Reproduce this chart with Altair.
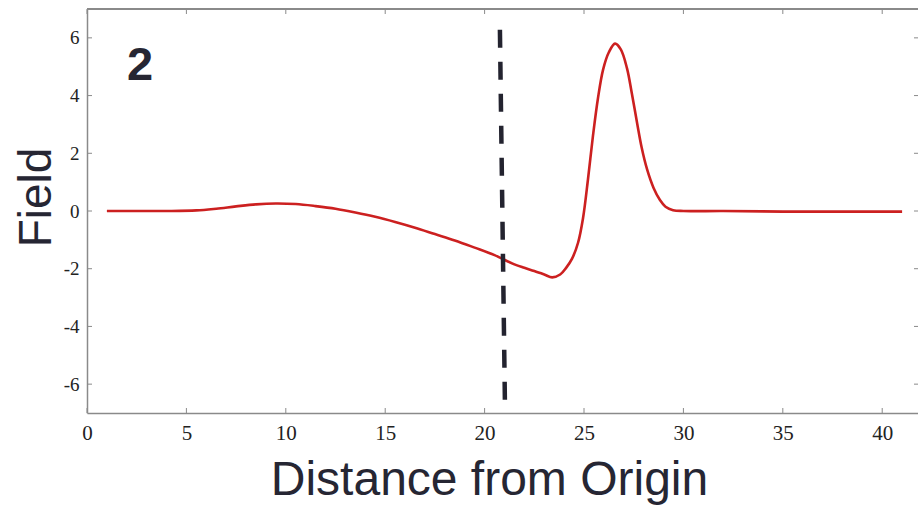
import altair as alt
import pandas as pd

# Field profile
dist = [1.0, 2.5, 4.0, 5.5, 6.5, 7.5, 8.5, 9.5, 10.5, 11.5, 12.5, 13.5, 14.5,
        15.5, 16.5, 17.5, 18.5, 19.5, 20.5, 21.5, 22.0, 22.5, 23.0, 23.4,
        23.8, 24.1, 24.4, 24.7, 24.95, 25.2, 25.45, 25.7, 25.96, 26.25, 26.56,
        26.85, 27.16, 27.4, 27.67, 27.9, 28.17, 28.5, 28.82, 29.1, 29.48,
        30.0, 32.0, 35.0, 38.0, 41.0]
field = [0.0, 0.0, 0.0, 0.02, 0.08, 0.16, 0.23, 0.26, 0.24, 0.17, 0.08, -0.05,
         -0.2, -0.38, -0.58, -0.8, -1.02, -1.27, -1.53, -1.85, -1.97, -2.08,
         -2.2, -2.30, -2.2, -1.97, -1.65, -1.1, -0.25, 1.1, 2.6, 3.9, 4.9,
         5.5, 5.8, 5.6, 4.95, 4.1, 3.05, 2.2, 1.45, 0.8, 0.38, 0.15, 0.03,
         0.0, 0.0, -0.02, -0.02, -0.02]

# Dashed marker line
marker_x = [20.77, 21.02]
marker_y = [6.28, -6.55]

# Panel label
label_text = ["2"]
label_x = [2.67]
label_y = [4.55]

x_ticks = [0, 5, 10, 15, 20, 25, 30, 35, 40]
y_ticks = [-6, -4, -2, 0, 2, 4, 6]

X_DOMAIN = [0, 41.8]
Y_DOMAIN = [-7, 7]
W, H = 831, 404
AXIS_GRAY = "#8a8a8a"
TEXT_DARK = "#262633"

curve_df = pd.DataFrame({"x": dist, "y": field})
marker_df = pd.DataFrame({"x": marker_x, "y": marker_y})
label_df = pd.DataFrame({"t": label_text, "x": label_x, "y": label_y})
xt_df = pd.DataFrame({"v": x_ticks})
yt_df = pd.DataFrame({"v": y_ticks})

xscale = alt.Scale(domain=X_DOMAIN, nice=False, zero=False)
yscale = alt.Scale(domain=Y_DOMAIN, nice=False, zero=False)

x_axis = alt.Axis(
    values=x_ticks, tickSize=0, labelPadding=9, labelFont="Liberation Serif",
    labelFontSize=21, labelColor="#222222", domainColor=AXIS_GRAY, domainWidth=1.5,
    grid=False, title="Distance from Origin", titleFont="Liberation Sans",
    titleFontSize=48, titleFontWeight="normal", titleColor=TEXT_DARK,
    titleX=402, titleY=81, titleAlign="center", titleBaseline="alphabetic",
    labelFlush=False, labelExpr="'' + datum.value",
)
y_axis = alt.Axis(
    values=y_ticks, tickSize=0, labelPadding=8, labelFont="Liberation Serif",
    labelFontSize=19, labelColor="#222222", domainColor=AXIS_GRAY, domainWidth=1.5,
    grid=False, title="Field", titleFont="Liberation Sans", titleFontSize=46,
    titleFontWeight="normal", titleColor=TEXT_DARK, titleAngle=-90,
    titleX=-51, titleY=188, titleAlign="center", titleBaseline="middle",
    labelFlush=False, labelExpr="'' + datum.value",
)

curve = alt.Chart(curve_df).mark_line(
    color="#cc2020", strokeWidth=2.6, interpolate="catmull-rom"
).encode(
    x=alt.X("x:Q", scale=xscale, axis=x_axis),
    y=alt.Y("y:Q", scale=yscale, axis=y_axis),
)

# top border
top_border = alt.Chart(xt_df).mark_rule(color=AXIS_GRAY, strokeWidth=1.5).encode(
    x=alt.value(0), x2=alt.value(W), y=alt.value(0))

# inward ticks
xt_bottom = alt.Chart(xt_df).mark_rule(color=AXIS_GRAY, strokeWidth=1).encode(
    x=alt.X("v:Q", scale=xscale), y=alt.value(H), y2=alt.value(H - 5))
xt_top = alt.Chart(xt_df).mark_rule(color=AXIS_GRAY, strokeWidth=1).encode(
    x=alt.X("v:Q", scale=xscale), y=alt.value(0), y2=alt.value(5))
yt_left = alt.Chart(yt_df).mark_rule(color=AXIS_GRAY, strokeWidth=1).encode(
    y=alt.Y("v:Q", scale=yscale), x=alt.value(0), x2=alt.value(5))
yt_right = alt.Chart(yt_df).mark_rule(color=AXIS_GRAY, strokeWidth=1).encode(
    y=alt.Y("v:Q", scale=yscale), x=alt.value(W - 4), x2=alt.value(W))

marker = alt.Chart(marker_df).mark_line(
    color="#23232f", strokeWidth=4.5, strokeDash=[18, 14]
).encode(x=alt.X("x:Q", scale=xscale), y=alt.Y("y:Q", scale=yscale))

label = alt.Chart(label_df).mark_text(
    font="Liberation Sans", fontSize=47, fontWeight="bold", color=TEXT_DARK,
    align="center", baseline="alphabetic"
).encode(x=alt.X("x:Q", scale=xscale), y=alt.Y("y:Q", scale=yscale), text="t:N")

chart = alt.layer(
    curve, top_border, xt_bottom, xt_top, yt_left, yt_right, marker, label
).properties(
    width=W, height=H,
    autosize=alt.AutoSizeParams(type="none"),
    padding={"left": 87, "top": 9, "right": 0, "bottom": 92},
    background="white",
).configure_view(stroke=None)

chart.save("out.html", embed_options={"renderer": "svg", "actions": False})
